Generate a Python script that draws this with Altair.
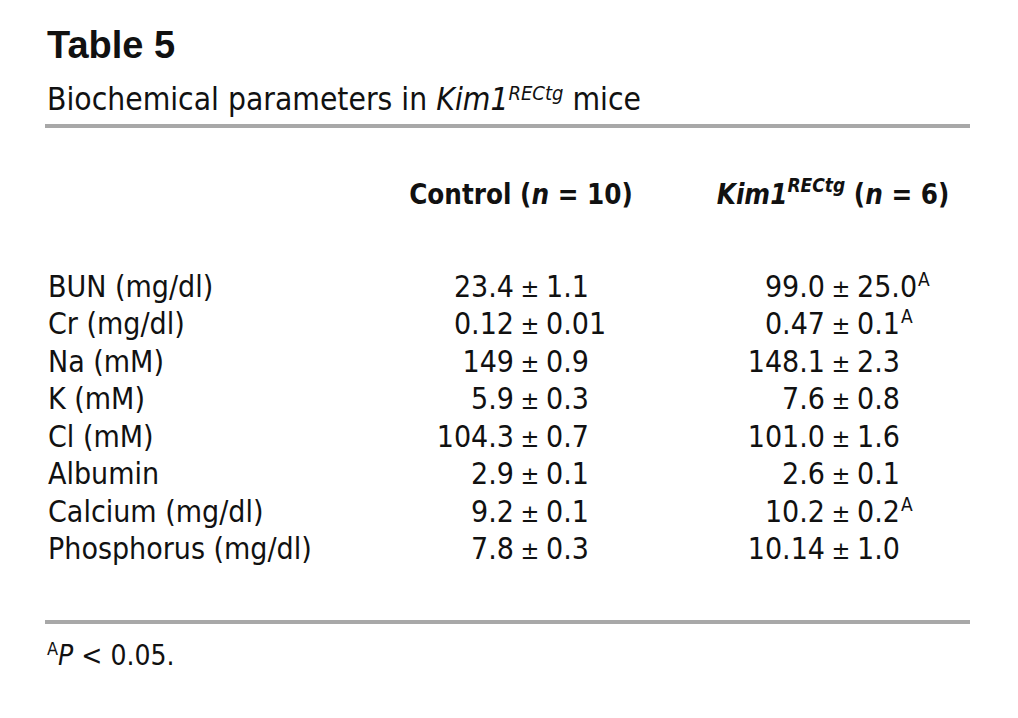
import altair as alt
import pandas as pd

# ---------------- data ----------------
parameters = ["BUN (mg/dl)", "Cr (mg/dl)", "Na (mM)", "K (mM)", "Cl (mM)",
              "Albumin", "Calcium (mg/dl)", "Phosphorus (mg/dl)"]
control_mean = ["23.4", "0.12", "149", "5.9", "104.3", "2.9", "9.2", "7.8"]
control_sd = ["1.1", "0.01", "0.9", "0.3", "0.7", "0.1", "0.1", "0.3"]
kim_mean = ["99.0", "0.47", "148.1", "7.6", "101.0", "2.6", "10.2", "10.14"]
kim_sd = ["25.0", "0.1", "2.3", "0.8", "1.6", "0.1", "0.2", "1.0"]
kim_sig = [True, True, False, False, False, False, True, False]

# ---------------- style / layout ----------------
COND = "DejaVu Sans Condensed"
SANS = "Liberation Sans"
INK = "#111111"
RULE = "#a8a8a8"
W, H = 1002, 702
BODY = 30
PM_SIZE = 25
ROW_Y0, ROW_Y1 = 289, 551
C_PM, K_PM = 522, 833
PM_GAP = 16
LABEL_X = 40

# approximate advance widths (em) of DejaVu Sans, used to chain styled text runs
REG = {" ": .318, "(": .390, ")": .390, ".": .318, "/": .337, "=": .838, "<": .838,
       "\u00b1": .838, "A": .684, "B": .686, "C": .698, "E": .632, "K": .656, "P": .603,
       "R": .695, "T": .611, "M": .863, "N": .748, "U": .732, "a": .613, "b": .635,
       "c": .550, "d": .635, "e": .615, "g": .635, "h": .634, "i": .278, "l": .278,
       "m": .974, "n": .634, "o": .612, "p": .635, "r": .411, "s": .521, "t": .392,
       "u": .634}
BOLD = {" ": .348, "(": .457, ")": .457, "=": .838, "C": .734, "E": .683, "K": .775,
        "R": .770, "a": .675, "e": .678, "g": .716, "i": .343, "l": .343, "m": 1.042,
        "n": .712, "o": .687, "r": .493, "t": .478}
for d in "0123456789":
    REG[d] = .636
    BOLD[d] = .696
CONDENSE = 0.9


def width(s, size, bold=False):
    tab = BOLD if bold else REG
    return sum(tab.get(c, REG.get(c, .6)) for c in s) * size * CONDENSE


def txt(s, x, y, size, weight="normal", style="normal", font=COND, align="left"):
    return alt.Chart(pd.DataFrame({"t": [s]})).mark_text(
        align=align, baseline="alphabetic", font=font, fontSize=size,
        fontWeight=weight, fontStyle=style, color=INK
    ).encode(text="t:N", x=alt.value(x), y=alt.value(y))


def chain(runs, x0, center=False):
    """runs: (text, size, bold, italic, y, space_before_size)"""
    ws = [width(t, s, b) for t, s, b, i, y, sp in runs]
    sps = [width(" ", sp, b) if sp else 0 for t, s, b, i, y, sp in runs]
    total = sum(ws) + sum(sps)
    x = x0 - total / 2 if center else x0
    out = []
    for (t, s, b, i, y, sp), w, g in zip(runs, ws, sps):
        x += g
        out.append(txt(t, x, y, s, weight="bold" if b else "normal",
                       style="italic" if i else "normal"))
        x += w
    return out


def rule(y):
    return alt.Chart(pd.DataFrame({"a": [0]})).mark_rule(
        color=RULE, strokeWidth=4
    ).encode(x=alt.value(37), x2=alt.value(962), y=alt.value(y))


df = pd.DataFrame({
    "row": list(range(len(parameters))),
    "param": parameters,
    "cm": control_mean, "csd": control_sd,
    "km": kim_mean, "ksd": kim_sd, "sig": kim_sig,
})
df["pm"] = "\u00b1"
df["ax"] = [K_PM + PM_GAP + width(s, BODY) + 1 for s in kim_sd]
df["sup"] = "A"

yenc = alt.Y("row:Q", scale=alt.Scale(domain=[0, len(parameters) - 1],
                                      range=[ROW_Y0, ROW_Y1], nice=False, zero=False),
             axis=None)
base = alt.Chart(df).encode(y=yenc)


def col(field, x, align, size=BODY):
    return base.mark_text(align=align, baseline="alphabetic", font=COND,
                          fontSize=size, color=INK).encode(
        text=f"{field}:N", x=alt.value(x))


sup_layer = alt.Chart(df[df["sig"]]).mark_text(
    align="left", baseline="alphabetic", font=COND, fontSize=19, color=INK, dy=-11
).encode(
    text="sup:N",
    x=alt.X("ax:Q", scale=alt.Scale(domain=[0, W], range=[0, W], nice=False, zero=False),
            axis=None),
    y=yenc,
)

SUB_Y, HEAD_Y, FOOT_Y = 102, 196, 657
layers = [txt("Table 5", 39, 50, 38, weight="bold", font=SANS)]
layers += chain([
    ("Biochemical parameters in", 31.5, False, False, SUB_Y, 0),
    ("Kim1", 31.5, False, True, SUB_Y, 31.5),
    ("RECtg", 20, False, True, SUB_Y - 10, 0),
    ("mice", 31.5, False, False, SUB_Y, 31.5),
], 39)
layers.append(rule(118))
layers += chain([
    ("Control (", 27.5, True, False, HEAD_Y, 0),
    ("n", 27.5, True, True, HEAD_Y, 0),
    ("= 10)", 27.5, True, False, HEAD_Y, 27.5),
], C_PM - 9, center=True)
layers += chain([
    ("Kim1", 27.5, True, True, HEAD_Y, 0),
    ("RECtg", 19, True, True, HEAD_Y - 12, 0),
    ("(", 27.5, True, False, HEAD_Y, 27.5),
    ("n", 27.5, True, True, HEAD_Y, 0),
    ("= 6)", 27.5, True, False, HEAD_Y, 27.5),
], K_PM - 8, center=True)
layers += [
    col("param", LABEL_X, "left"),
    col("cm", C_PM - PM_GAP, "right"),
    col("pm", C_PM, "center", PM_SIZE),
    col("csd", C_PM + PM_GAP, "left"),
    col("km", K_PM - PM_GAP, "right"),
    col("pm", K_PM, "center", PM_SIZE),
    col("ksd", K_PM + PM_GAP, "left"),
    sup_layer,
    rule(614),
]
layers += chain([
    ("A", 18, False, False, FOOT_Y - 10, 0),
    ("P", 28, False, True, FOOT_Y, 0),
    ("< 0.05.", 28, False, False, FOOT_Y, 28),
], 39)

chart = alt.layer(*layers).properties(
    width=W, height=H, padding=0, autosize="none"
).configure_view(stroke=None)

chart.save("out.html", embed_options={"renderer": "svg", "actions": False})
